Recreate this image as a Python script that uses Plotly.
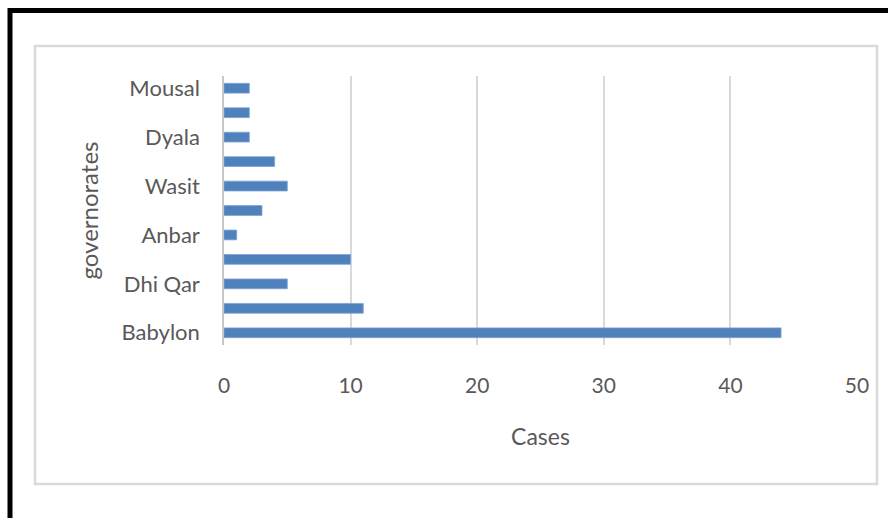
import plotly.graph_objects as go

# Cases per governorate, listed bottom to top
positions = list(range(11))
case_counts = [44, 11, 5, 10, 1, 3, 5, 4, 2, 2, 2]
tick_labels = ["Babylon", "", "Dhi Qar", "", "Anbar", "", "Wasit", "", "Dyala", "", "Mousal"]
x_ticks = [0, 10, 20, 30, 40, 50]

W, H = 888, 518
L, R, T, B = 224, 31, 76, 173
pw, ph = W - L - R, H - T - B


def px(x):
    return (x - L) / pw


def py(y):
    return (H - B - y) / ph


font_family = "Lato, 'Open Sans', sans-serif"
text_color = "#595959"

fig = go.Figure(
    go.Bar(
        x=case_counts,
        y=positions,
        orientation="h",
        marker=dict(color="#4f81bd", line=dict(color="#7ea2d1", width=0.8)),
        hoverinfo="x",
    )
)

fig.update_layout(
    width=W,
    height=H,
    margin=dict(l=L, r=R, t=T, b=B),
    paper_bgcolor="white",
    plot_bgcolor="white",
    bargap=0.6,
    showlegend=False,
    font=dict(family=font_family, color=text_color, size=21),
    xaxis=dict(
        range=[0, 50],
        tickvals=x_ticks,
        ticktext=[str(v) for v in x_ticks],
        showgrid=True,
        gridcolor="#d9d9d9",
        gridwidth=1.5,
        zeroline=False,
        showline=False,
        ticks="",
        ticklabelstandoff=26,
        tickfont=dict(size=21, color=text_color),
        title=dict(text="Cases", standoff=32, font=dict(size=23, color=text_color)),
    ),
    yaxis=dict(
        range=[-0.5, 10.5],
        tickvals=positions,
        ticktext=tick_labels,
        showgrid=False,
        zeroline=False,
        showline=True,
        linecolor="#c8c8c8",
        linewidth=1.5,
        ticks="",
        ticklabelstandoff=18,
        tickfont=dict(size=22, color=text_color),
        title=dict(text="governorates", standoff=16, font=dict(size=24, color=text_color)),
    ),
    shapes=[
        # light grey chart-area frame
        dict(type="rect", xref="paper", yref="paper",
             x0=px(35), x1=px(877), y0=py(484), y1=py(46),
             line=dict(color="#d9d9d9", width=2.5), fillcolor="rgba(0,0,0,0)", layer="below"),
        # heavy black outer frame
        dict(type="rect", xref="paper", yref="paper",
             x0=px(10), x1=px(960), y0=py(580), y1=py(10.5),
             line=dict(color="black", width=5), fillcolor="rgba(0,0,0,0)", layer="below"),
    ],
)

fig.write_html("out.html")
